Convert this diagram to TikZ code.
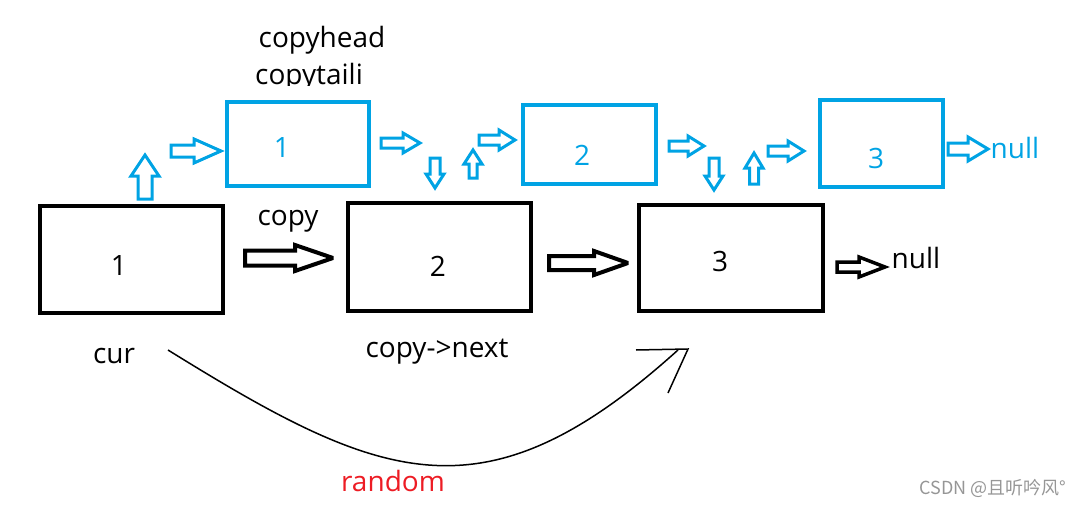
\documentclass[tikz,border=0pt]{standalone}
\usepackage{fontspec}
\setmainfont{Open Sans}
\newfontfamily\cjkfont{Noto Sans CJK SC}
\definecolor{cblue}{RGB}{0,163,228}
\definecolor{cred}{RGB}{237,28,36}
\definecolor{wmgray}{RGB}{150,150,150}
\tikzset{
  bbox/.style={draw=black, line width=4pt},
  qbox/.style={draw=cblue, line width=4pt},
  blackarr/.style={draw=black, line width=4pt, line join=miter, miter limit=3},
  bluearr/.style={draw=cblue, line width=3pt, line join=miter, miter limit=3},
  % blk = {length}{shaft half width}{head half width}{head length}
  pics/blk/.style n args={4}{code={
    \path[pic actions] (0,-#2) -- ({#1-#4},-#2) -- ({#1-#4},-#3) -- (#1,0)
      -- ({#1-#4},#3) -- ({#1-#4},#2) -- (0,#2) -- cycle;
  }},
  lbl/.style={font=\fontsize{28}{32}\selectfont, inner sep=0pt},
  num/.style={font=\fontsize{28}{32}\selectfont, inner sep=0pt},
}
\begin{document}
\begin{tikzpicture}[x=1pt,y=-1pt]
\useasboundingbox (0,0) rectangle (1085,506);
% black list
\draw[bbox] (40,206) rectangle (223,313);
\draw[bbox] (348,203) rectangle (531,311);
\draw[bbox] (639,205) rectangle (823,311);
\node[num] (n1) at (119,266) {1};
\node[num] (n2) at (438,266) {2};
\node[num] (n3) at (720,261) {3};
% blue list
\draw[qbox] (227,102) rectangle (369,186);
\draw[qbox] (523,105) rectangle (656,184);
\draw[qbox] (820,100) rectangle (943,187);
\node[num, text=cblue] (c1) at (282,148) {1};
\node[num, text=cblue] (c2) at (582,155) {2};
\node[num, text=cblue] (c3) at (876,158) {3};
% black block arrows
\pic[blackarr] at (245,258) {blk={88}{7.5}{13}{38}};
\pic[blackarr] at (549,263) {blk={79}{7}{12}{34}};
\pic[blackarr, line width=3.5pt] at (837,267) {blk={48}{5}{10}{26}};
% blue block arrows
\pic[bluearr, rotate=90] at (145,199) {blk={44}{7}{14}{21}};
\pic[bluearr] at (171,151) {blk={50}{6}{12}{27}};
\pic[bluearr] at (381,143) {blk={39}{5}{10}{17}};
\pic[bluearr, rotate=-90] at (435,158) {blk={30}{5}{9}{14}};
\pic[bluearr, rotate=90] at (473,178) {blk={28}{4}{9}{14}};
\pic[bluearr] at (479,140) {blk={36}{5}{10}{16}};
\pic[bluearr] at (669,146) {blk={35}{5}{10}{16}};
\pic[bluearr, rotate=-90] at (714,158) {blk={32}{5}{9}{14}};
\pic[bluearr, rotate=90] at (754,184) {blk={31}{4.5}{9}{15}};
\pic[bluearr] at (768,151) {blk={36}{5}{10}{16}};
\pic[bluearr] at (948,149) {blk={40}{6}{12}{20}};
% labels
\node[lbl] (copyhead) at (322,40) {copyhead};
\begin{scope}
\clip (0,0) rectangle (1085,85);
\node[lbl] (copytail) at (309,77) {copytaili};
\end{scope}
\node[lbl] (copy) at (288,221) {copy};
\node[lbl] (cur) at (114,356) {cur};
\node[lbl] (cnext) at (437,352) {copy->next};
\node[lbl] (null1) at (916,258) {null};
\node[lbl, text=cblue] (null2) at (1015,148) {null};
\node[lbl, text=cred] (random) at (393,481) {random};
\node[font=\cjkfont\fontsize{18}{20}\selectfont, text=wmgray, inner sep=0pt] (wm) at (993,488) {CSDN @且听吟风°};
% random pointer curve
\coordinate (rs) at (168,350);
\coordinate (re) at (678,350);
\coordinate (ha) at (636,350);
\coordinate (hb) at (688,349);
\coordinate (hc) at (668,393);
\draw[line width=1.5pt] (rs) .. controls (381,482) and (484,525) .. (re);
\draw[line width=1.5pt] (ha) -- (hb) -- (hc);
\end{tikzpicture}
\end{document}
